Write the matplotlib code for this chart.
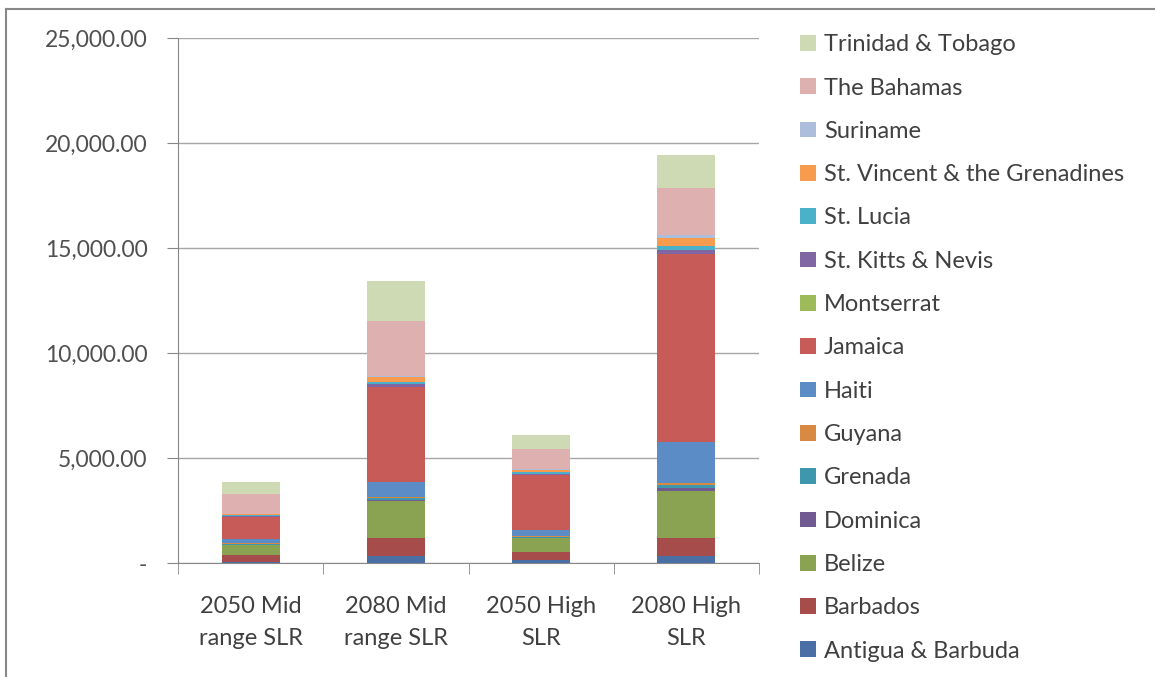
import numpy as np
import matplotlib
matplotlib.use("Agg")
import matplotlib.pyplot as plt
from matplotlib.lines import Line2D
from matplotlib.ticker import FuncFormatter

plt.rcParams['font.family'] = ['Lato', 'DejaVu Sans']

scenarios = ["2050 Mid\nrange SLR", "2080 Mid\nrange SLR", "2050 High\nSLR", "2080 High\nSLR"]

countries = ["Antigua & Barbuda", "Barbados", "Belize", "Dominica", "Grenada", "Guyana",
             "Haiti", "Jamaica", "Montserrat", "St. Kitts & Nevis", "St. Lucia",
             "St. Vincent & the Grenadines", "Suriname", "The Bahamas", "Trinidad & Tobago"]

# values per scenario (bottom to top of each stack)
antigua = [40, 330, 140, 330]
barbados = [330, 850, 370, 860]
belize = [480, 1770, 670, 2240]
dominica = [30, 70, 30, 130]
grenada = [30, 60, 40, 160]
guyana = [20, 60, 30, 110]
haiti = [190, 730, 280, 1940]
jamaica = [1080, 4520, 2630, 8950]
montserrat = [10, 10, 10, 10]
st_kitts = [40, 110, 40, 190]
st_lucia = [20, 120, 70, 190]
st_vincent = [50, 210, 130, 350]
suriname = [10, 60, 20, 140]
bahamas = [940, 2630, 950, 2240]
trinidad = [600, 1900, 680, 1600]

series = [antigua, barbados, belize, dominica, grenada, guyana, haiti, jamaica,
          montserrat, st_kitts, st_lucia, st_vincent, suriname, bahamas, trinidad]

colors = ["#4a6fa5", "#a64c4a", "#8aa352", "#715a91", "#3f97ad", "#d88a43",
          "#5b8cc6", "#c75b57", "#9dbb5a", "#8166a4", "#4bb0c9", "#f79b4f",
          "#acbedc", "#dfb0b0", "#cddab3"]

fig = plt.figure(figsize=(11.55, 6.77), dpi=100)
ax = fig.add_axes([178 / 1155, 1 - 563 / 677, 581 / 1155, 525 / 677])

x = np.arange(len(scenarios))
bottom = np.zeros(len(scenarios))
handles = []
for name, vals, c in zip(countries, series, colors):
    b = ax.bar(x, vals, width=0.4, bottom=bottom, color=c, label=name, zorder=3)
    bottom += np.array(vals)
    handles.append(b)

ax.set_xlim(-0.5, len(scenarios) - 0.5)
ax.set_ylim(0, 25000)
ax.set_yticks(np.arange(0, 25001, 5000))
ax.yaxis.set_major_formatter(FuncFormatter(lambda v, p: "-" if v == 0 else f"{v:,.2f}"))
ax.yaxis.grid(True, color="#a6a6a6", linewidth=1.0, zorder=0)

ax.set_xticks(x)
ax.set_xticklabels(scenarios, fontsize=17, color="#404040", linespacing=1.6)
ax.set_xticks(np.arange(-0.5, len(scenarios)), minor=True)
ax.tick_params(axis="x", which="major", length=0, pad=24)
ax.tick_params(axis="x", which="minor", length=8, color="#888888")
ax.tick_params(axis="y", length=8, color="#888888", labelsize=16.5, labelcolor="#505050", pad=14)

for s in ["top", "right"]:
    ax.spines[s].set_visible(False)
ax.spines["left"].set_color("#888888")
ax.spines["bottom"].set_color("#888888")

leg = fig.legend(handles[::-1], countries[::-1], loc="upper left",
                 bbox_to_anchor=(779 / 1155, 1 - 13 / 677), frameon=False,
                 fontsize=17, labelcolor="#404040", handlelength=0.65,
                 handleheight=0.65, handletextpad=0.35, labelspacing=0.945)

# chart frame (top and left edges)
fig.add_artist(Line2D([6 / 1155, 6 / 1155], [0, 1 - 8.5 / 677], transform=fig.transFigure,
                      color="#888888", linewidth=1.5))
fig.add_artist(Line2D([6 / 1155, 1], [1 - 8.5 / 677, 1 - 8.5 / 677], transform=fig.transFigure,
                      color="#888888", linewidth=1.5))

fig.savefig("out.png", dpi=100)
